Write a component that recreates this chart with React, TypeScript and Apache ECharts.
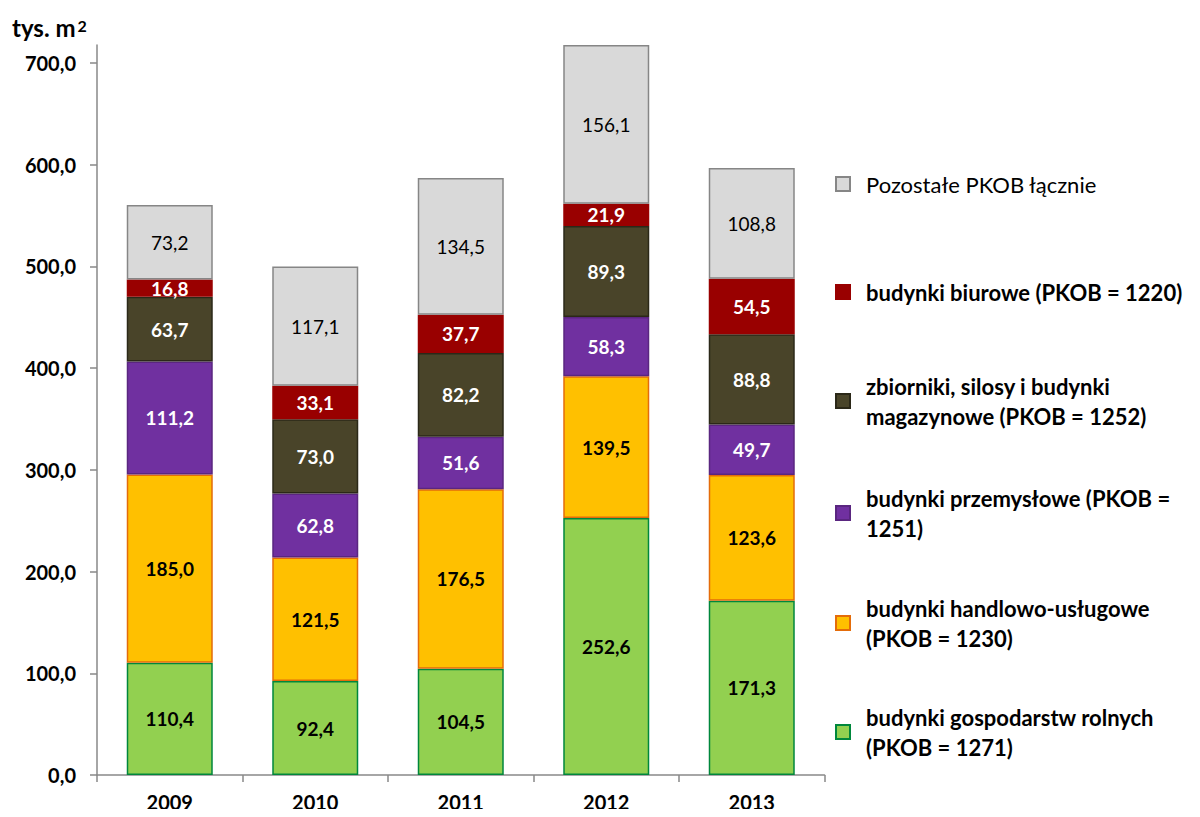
import React, { useEffect, useRef } from "react";
import * as echarts from "echarts";

const years = ["2009", "2010", "2011", "2012", "2013"];
const gospodarstw = [110.4, 92.4, 104.5, 252.6, 171.3];
const handlowo = [185.0, 121.5, 176.5, 139.5, 123.6];
const przemyslowe = [111.2, 62.8, 51.6, 58.3, 49.7];
const zbiorniki = [63.7, 73.0, 82.2, 89.3, 88.8];
const biurowe = [16.8, 33.1, 37.7, 21.9, 54.5];
const pozostale = [73.2, 117.1, 134.5, 156.1, 108.8];
const yTicks = [0, 100, 200, 300, 400, 500, 600, 700];

const names = {
  gosp: "budynki gospodarstw rolnych\n(PKOB = 1271)",
  hand: "budynki handlowo-usługowe\n(PKOB = 1230)",
  przem: "budynki przemysłowe (PKOB =\n1251)",
  zbior: "zbiorniki, silosy i budynki\nmagazynowe (PKOB = 1252)",
  biur: "budynki biurowe (PKOB = 1220)",
  poz: "Pozostałe PKOB łącznie",
};

const FONT = "Lato, 'Open Sans', sans-serif";
const fmt = (v: number) => v.toFixed(1).replace(".", ",");

export default function App() {
  const ref = useRef<HTMLDivElement>(null);
  useEffect(() => {
    if (!ref.current) return;
    const chart = echarts.init(ref.current, null, { renderer: "svg" });

    const mkSeries = (
      name: string,
      data: number[],
      color: string,
      border: string,
      labelColor: string,
      bold: boolean
    ) => ({
      name,
      type: "bar",
      stack: "total",
      data,
      barWidth: 86,
      itemStyle: { color, borderColor: border, borderWidth: 1.5 },
      label: {
        show: true,
        position: "inside",
        formatter: (p: any) => fmt(p.value),
        color: labelColor,
        fontFamily: FONT,
        fontSize: 19,
        fontWeight: bold ? "bold" : "normal",
      },
      emphasis: { disabled: true },
    });

    const legendItem = (name: string, center: number, twoLines: boolean) => ({
      orient: "vertical",
      left: 835,
      top: twoLines ? center - 45 : center - 15,
      padding: 0,
      selectedMode: false,
      itemWidth: 14,
      itemHeight: 14,
      icon: "rect",
      data: [
        {
          name,
          textStyle: {
            fontFamily: FONT,
            fontSize: 22,
            lineHeight: 30,
            color: "#000",
            fontWeight: name === names.poz ? "normal" : "bold",
            padding: twoLines ? [30, 0, 0, 11] : [0, 0, 0, 11],
          },
        },
      ],
    });

    const option = {
      animation: false,
      backgroundColor: "#fff",
      grid: { left: 97, right: 375.5, top: 45, bottom: 42, containLabel: false },
      xAxis: {
        type: "category",
        data: years,
        axisLine: { lineStyle: { color: "#898989", width: 1.5 } },
        axisTick: { show: true, length: 7, lineStyle: { color: "#898989", width: 1.5 } },
        axisLabel: {
          color: "#000",
          fontFamily: FONT,
          fontSize: 20,
          fontWeight: "bold",
          margin: 17,
        },
      },
      yAxis: {
        type: "value",
        min: 0,
        max: (v: any) => v.max,
        splitLine: { show: false },
        axisLine: { show: true, lineStyle: { color: "#898989", width: 1.5 } },
        axisTick: {
          show: true,
          length: 7,
          customValues: yTicks,
          lineStyle: { color: "#898989", width: 1.5 },
        },
        axisLabel: {
          customValues: yTicks,
          formatter: (v: number) => fmt(v),
          color: "#000",
          fontFamily: FONT,
          fontSize: 20,
          fontWeight: "bold",
          margin: 21,
        },
      },
      legend: [
        legendItem(names.poz, 184, false),
        legendItem(names.biur, 292, false),
        legendItem(names.zbior, 401, true),
        legendItem(names.przem, 513, true),
        legendItem(names.hand, 623, true),
        legendItem(names.gosp, 732, true),
      ],
      graphic: [
        {
          type: "text",
          left: 12,
          top: 15,
          style: {
            text: "{a|tys. m}{b|2}",
            rich: {
              a: { fontFamily: FONT, fontSize: 24, fontWeight: "bold", fill: "#000", color: "#000" },
              b: {
                fontFamily: FONT,
                fontSize: 16,
                fontWeight: "bold",
                fill: "#000",
                color: "#000",
                verticalAlign: "top",
                padding: [2, 0, 0, 2],
              },
            },
          },
        },
      ],
      series: [
        mkSeries(names.gosp, gospodarstw, "#92D050", "#00873C", "#000", true),
        mkSeries(names.hand, handlowo, "#FFC000", "#E46C0A", "#000", true),
        mkSeries(names.przem, przemyslowe, "#7030A0", "#5A2680", "#fff", true),
        mkSeries(names.zbior, zbiorniki, "#494429", "#2B2818", "#fff", true),
        mkSeries(names.biur, biurowe, "#990000", "#990000", "#fff", true),
        mkSeries(names.poz, pozostale, "#D9D9D9", "#868686", "#000", false),
      ],
    };

    chart.setOption(option as any);
    return () => chart.dispose();
  }, []);

  return <div ref={ref} style={{ width: 1200, height: 817, margin: -8 }} />;
}
